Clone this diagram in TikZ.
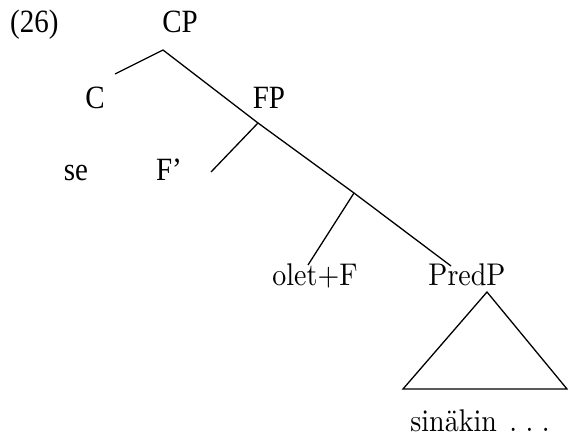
\documentclass[tikz,border=0pt]{standalone}
\usepackage{fontspec}
\setmainfont{Liberation Serif}
\newfontfamily\garfont{lmroman10-regular.otf}
\newcommand{\tall}[1]{\scalebox{1}[1.12]{#1}}
\begin{document}
\begin{tikzpicture}[x=1pt, y=-1pt, font=\fontsize{29}{34}\selectfont,
    branch/.style={line width=1.3pt},
    lab/.style={anchor=base, inner sep=0pt},
    glab/.style={lab, font=\fontsize{28}{33}\garfont}]
    \useasboundingbox (0,0) rectangle (568,436);

    % Example number and the node labels
    \node[lab, anchor=base west] (num) at (10,33) {\tall{(26)}};
    \node[lab] (cp) at (180,33) {\tall{CP}};
    \node[lab] (c) at (95,108) {\tall{C}};
    \node[lab] (fp) at (269,108) {\tall{FP}};
    \node[lab] (se) at (76,180) {\tall{se}};
    \node[lab] (fbar) at (169,180) {\tall{F'}};
    \node[glab] (olet) at (315,285) {\tall{olet+F}};
    \node[glab] (predp) at (467,285) {\tall{PredP}};
    \node[glab] (sina) at (480,431) {\tall{sinäkin\hspace{0.45em}.\kern0.3em.\kern0.3em.}};

    % Branching points and branch ends
    \coordinate (cpj) at (163,50);
    \coordinate (cend) at (115,74);
    \coordinate (fpj) at (258,123);
    \coordinate (fend) at (211,172);
    \coordinate (olj) at (354,193);
    \coordinate (olend) at (308,265);
    \coordinate (predend) at (451,266);

    % Branches
    \draw[branch] (cend) -- (cpj) -- (fpj) -- (olj) -- (predend);
    \draw[branch] (fpj) -- (fend);
    \draw[branch] (olj) -- (olend);

    % Triangle under PredP
    \coordinate (top) at (487,292);
    \coordinate (bl) at (403,389);
    \coordinate (br) at (567,389);
    \draw[branch] (bl) -- (top) -- (br) -- cycle;
\end{tikzpicture}
\end{document}
